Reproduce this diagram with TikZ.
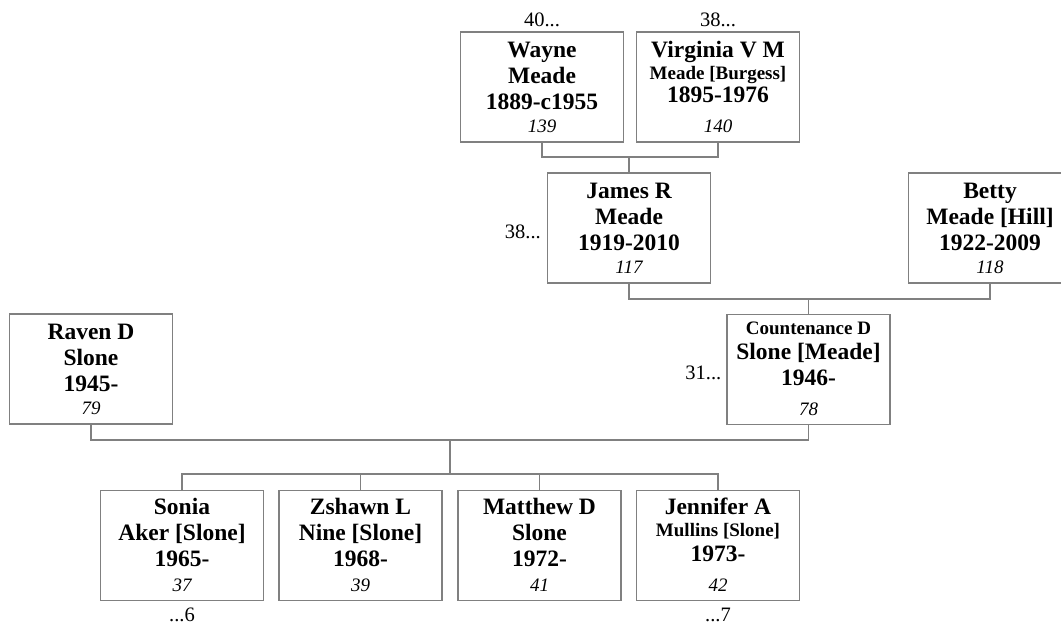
\documentclass[tikz,border=0pt]{standalone}
\usepackage{fontspec}
\setmainfont{Liberation Serif}
\usepackage{tikz}
\usetikzlibrary{positioning}

\definecolor{linegray}{RGB}{128,128,128}

\tikzset{
    personbox/.style={rectangle, draw=linegray, line width=1.1pt, minimum width=163pt, minimum height=110pt, inner sep=0pt},
    nametext/.style={align=center, inner sep=0pt, font=\bfseries\fontsize{23.5}{26}\selectfont},
    numtext/.style={inner sep=0pt, font=\itshape\fontsize{19}{22}\selectfont},
    gentext/.style={inner sep=0pt, font=\fontsize{20.5}{24}\selectfont},
    link/.style={draw=linegray, line width=1.1pt}
}
\newcommand{\smallline}[1]{{\fontsize{19}{22}\selectfont #1}}

\NewDocumentCommand{\drawperson}{m m m m m O{26}}{
    % Box
    \node[personbox] (#1) at (#2,#3) {};
    % Name and dates, first baseline #6 below the top
    \node[nametext, anchor=north] (#1name) at (#1.north) {\rule{0pt}{#6pt}#4};
    % Record number
    \node[numtext, anchor=base] (#1num) at ([yshift=10pt]#1.south) {#5};
}

\begin{document}
\begin{tikzpicture}[x=1pt, y=1pt]
        \useasboundingbox (0,0) rectangle (1061,-625);

        % Grandparents
        \drawperson{wayne}{542}{-87}{Wayne\\Meade\\1889-c1955}{139}
        \drawperson{virginia}{718}{-87}{Virginia V M\\[-4pt]\smallline{Meade [Burgess]}\\[-3pt]1895-1976}{140}

        % Parents of Countenance
        \drawperson{james}{629}{-228}{James R\\Meade\\1919-2010}{117}
        \drawperson{betty}{990}{-228}{Betty\\Meade [Hill]\\1922-2009}{118}

        % Couple
        \drawperson{raven}{91}{-369}{Raven D\\Slone\\1945-}{79}
        \drawperson{countenance}{808.5}{-369.5}{\smallline{Countenance D}\\[-1pt]Slone [Meade]\\1946-}{78}[20]

        % Children
        \drawperson{sonia}{182}{-545.5}{Sonia\\Aker [Slone]\\1965-}{37}[24]
        \drawperson{zshawn}{360.5}{-545.5}{Zshawn L\\Nine [Slone]\\1968-}{39}[24]
        \drawperson{matthew}{539.5}{-545.5}{Matthew D\\Slone\\1972-}{41}[24]
        \drawperson{jennifer}{718}{-545.5}{Jennifer A\\[-4pt]\smallline{Mullins [Slone]}\\[-1pt]1973-}{42}[24]

        % Generation counts
        \node[gentext, above=4pt of wayne] (waynegen) {40...};
        \node[gentext, above=4pt of virginia] (virginiagen) {38...};
        \node[gentext, anchor=base east] (jamesgen) at ([xshift=-6pt,yshift=-10pt]james.west) {38...};
        \node[gentext, anchor=base east] (countenancegen) at ([xshift=-5pt,yshift=-10pt]countenance.west) {31...};
        \node[gentext, anchor=base] (soniagen) at ([yshift=-20pt]sonia.south) {...6};
        \node[gentext, anchor=base] (jennifergen) at ([yshift=-20pt]jennifer.south) {...7};

        % Edges
        \coordinate (wvbar) at (james.north |- 0,-157);
        \draw[link] (wayne.south) |- (wvbar) -| (virginia.south);
        \draw[link] (wvbar) -- (james.north);

        \coordinate (jbbar) at (countenance.north |- 0,-299);
        \draw[link] (james.south) |- (jbbar) -| (betty.south);
        \draw[link] (jbbar) -- (countenance.north);

        \coordinate (rcbar) at (450,-440);
        \coordinate (kidbar) at (450,-474);
        \draw[link] (raven.south) |- (rcbar) -| (countenance.south);
        \draw[link] (rcbar) -- (kidbar);
        \draw[link] (sonia.north) |- (kidbar) -| (jennifer.north);
        \draw[link] (zshawn.north) -- (zshawn.north |- kidbar);
        \draw[link] (matthew.north) -- (matthew.north |- kidbar);

    \end{tikzpicture}
\end{document}
